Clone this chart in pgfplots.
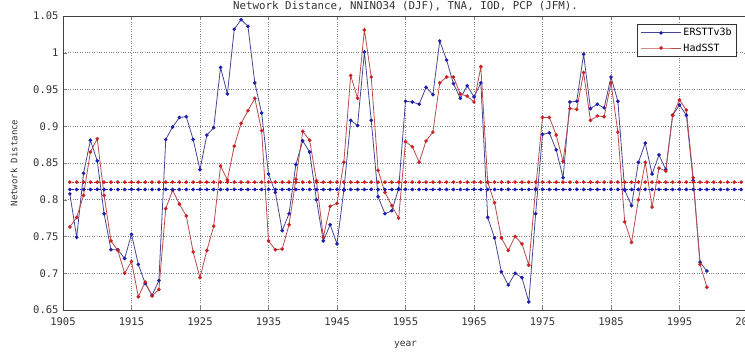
\documentclass[border=0pt]{standalone}
\usepackage{pgfplots}
\pgfplotsset{compat=1.18}
\usepackage{pgfplotstable}
\usepackage{fontspec}
\setmainfont{DejaVu Sans Mono}
\definecolor{ersst}{RGB}{30,30,175}
\definecolor{had}{RGB}{200,35,35}
\definecolor{ersstl}{RGB}{70,70,150}
\definecolor{hadl}{RGB}{185,75,75}

\pgfplotstableread{
year ersst had
1906 0.808 0.763
1907 0.749 0.776
1908 0.836 0.806
1909 0.881 0.865
1910 0.853 0.883
1911 0.781 0.806
1912 0.732 0.744
1913 0.732 0.731
1914 0.720 0.700
1915 0.753 0.716
1916 0.712 0.668
1917 0.686 0.688
1918 0.670 0.669
1919 0.690 0.678
1920 0.882 0.788
1921 0.899 0.813
1922 0.912 0.794
1923 0.913 0.778
1924 0.882 0.729
1925 0.841 0.694
1926 0.888 0.731
1927 0.898 0.764
1928 0.980 0.846
1929 0.944 0.827
1930 1.032 0.873
1931 1.045 0.904
1932 1.036 0.921
1933 0.959 0.938
1934 0.918 0.894
1935 0.835 0.744
1936 0.810 0.732
1937 0.758 0.733
1938 0.781 0.766
1939 0.848 0.828
1940 0.880 0.893
1941 0.865 0.881
1942 0.800 0.826
1943 0.744 0.749
1944 0.766 0.791
1945 0.740 0.795
1946 0.813 0.851
1947 0.908 0.969
1948 0.901 0.938
1949 1.001 1.031
1950 0.908 0.967
1951 0.804 0.840
1952 0.781 0.810
1953 0.785 0.792
1954 0.815 0.775
1955 0.934 0.879
1956 0.933 0.872
1957 0.930 0.851
1958 0.953 0.880
1959 0.943 0.892
1960 1.016 0.959
1961 0.990 0.967
1962 0.958 0.967
1963 0.938 0.944
1964 0.955 0.941
1965 0.940 0.933
1966 0.959 0.981
1967 0.776 0.824
1968 0.748 0.796
1969 0.702 0.748
1970 0.684 0.731
1971 0.700 0.750
1972 0.694 0.740
1973 0.661 0.711
1974 0.781 0.815
1975 0.889 0.912
1976 0.891 0.912
1977 0.868 0.888
1978 0.830 0.852
1979 0.933 0.924
1980 0.934 0.923
1981 0.998 0.973
1982 0.924 0.908
1983 0.930 0.914
1984 0.925 0.913
1985 0.967 0.959
1986 0.934 0.892
1987 0.813 0.770
1988 0.792 0.742
1989 0.851 0.800
1990 0.877 0.851
1991 0.835 0.790
1992 0.861 0.843
1993 0.841 0.839
1994 0.915 0.915
1995 0.929 0.936
1996 0.915 0.922
1997 0.826 0.830
1998 0.715 0.712
1999 0.703 0.681
}\datatable

\pgfplotstableread{
year e h
1906 0.814 0.824
1907 0.814 0.824
1908 0.814 0.824
1909 0.814 0.824
1910 0.814 0.824
1911 0.814 0.824
1912 0.814 0.824
1913 0.814 0.824
1914 0.814 0.824
1915 0.814 0.824
1916 0.814 0.824
1917 0.814 0.824
1918 0.814 0.824
1919 0.814 0.824
1920 0.814 0.824
1921 0.814 0.824
1922 0.814 0.824
1923 0.814 0.824
1924 0.814 0.824
1925 0.814 0.824
1926 0.814 0.824
1927 0.814 0.824
1928 0.814 0.824
1929 0.814 0.824
1930 0.814 0.824
1931 0.814 0.824
1932 0.814 0.824
1933 0.814 0.824
1934 0.814 0.824
1935 0.814 0.824
1936 0.814 0.824
1937 0.814 0.824
1938 0.814 0.824
1939 0.814 0.824
1940 0.814 0.824
1941 0.814 0.824
1942 0.814 0.824
1943 0.814 0.824
1944 0.814 0.824
1945 0.814 0.824
1946 0.814 0.824
1947 0.814 0.824
1948 0.814 0.824
1949 0.814 0.824
1950 0.814 0.824
1951 0.814 0.824
1952 0.814 0.824
1953 0.814 0.824
1954 0.814 0.824
1955 0.814 0.824
1956 0.814 0.824
1957 0.814 0.824
1958 0.814 0.824
1959 0.814 0.824
1960 0.814 0.824
1961 0.814 0.824
1962 0.814 0.824
1963 0.814 0.824
1964 0.814 0.824
1965 0.814 0.824
1966 0.814 0.824
1967 0.814 0.824
1968 0.814 0.824
1969 0.814 0.824
1970 0.814 0.824
1971 0.814 0.824
1972 0.814 0.824
1973 0.814 0.824
1974 0.814 0.824
1975 0.814 0.824
1976 0.814 0.824
1977 0.814 0.824
1978 0.814 0.824
1979 0.814 0.824
1980 0.814 0.824
1981 0.814 0.824
1982 0.814 0.824
1983 0.814 0.824
1984 0.814 0.824
1985 0.814 0.824
1986 0.814 0.824
1987 0.814 0.824
1988 0.814 0.824
1989 0.814 0.824
1990 0.814 0.824
1991 0.814 0.824
1992 0.814 0.824
1993 0.814 0.824
1994 0.814 0.824
1995 0.814 0.824
1996 0.814 0.824
1997 0.814 0.824
1998 0.814 0.824
1999 0.814 0.824
2000 0.814 0.824
2001 0.814 0.824
2002 0.814 0.824
2003 0.814 0.824
2004 0.814 0.824
}\reftable

\begin{document}
\begin{tikzpicture}
\begin{axis}[
  width=685pt, height=294pt, scale only axis,
  xmin=1905, xmax=2005, ymin=0.65, ymax=1.05,
  xtick={1905,1915,1925,1935,1945,1955,1965,1975,1985,1995,2005},
  ytick={0.65,0.7,0.75,0.8,0.85,0.9,0.95,1,1.05},
  yticklabels={0.65,0.7,0.75,0.8,0.85,0.9,0.95,1,1.05},
  /pgf/number format/assume math mode=true,
  x tick label style={/pgf/number format/1000 sep={}, yshift=-4pt},
  y tick label style={xshift=-1pt},
  tick label style={font=\fontsize{10.5}{12}\selectfont, black!80},
  tick align=inside,
  major tick length=4pt,
  grid=major,
  grid style={dotted, black!50, line width=0.6pt},
  axis line style={black!75, line width=0.7pt},
  title={Network Distance, NNINO34 (DJF), TNA, IOD, PCP (JFM).},
  title style={font=\fontsize{10.8}{12}\selectfont, black!80, at={(axis description cs:0.5,1)}, anchor=center, yshift=4pt},
  xlabel={year},
  xlabel style={font=\fontsize{9.5}{11}\selectfont, black!80, at={(axis description cs:0.5,0)}, anchor=center, yshift=-35pt},
  ylabel={Network Distance},
  every axis y label/.style={font=\fontsize{9}{11}\selectfont, black!80, at={(axis description cs:0,0.5)}, anchor=center, xshift=-49pt, rotate=90},
  legend style={at={(axis description cs:1,1)}, anchor=north east, xshift=-11pt, yshift=-8pt,
    font=\fontsize{10}{12}\selectfont, draw=black!80, line width=0.7pt, inner xsep=3pt, inner ysep=2pt,
    row sep=2pt},
  legend cell align=left,
  legend image code/.code={\draw[mark repeat=2,mark phase=2] plot coordinates {(0pt,0pt) (20pt,0pt) (40pt,0pt)};},
]
\addplot[color=ersstl, line width=0.8pt, mark=*, mark size=1.4pt, mark options={fill=ersst, draw=ersst}] table[x=year, y=ersst] {\datatable};
\addlegendentry{ERSTTv3b}
\addplot[color=hadl, line width=0.8pt, mark=*, mark size=1.4pt, mark options={fill=had, draw=had}] table[x=year, y=had] {\datatable};
\addlegendentry{HadSST}
\addplot[color=had, densely dotted, line width=0.7pt, mark=*, mark size=1.5pt, mark options={solid, fill=had, draw=had}, forget plot] table[x=year, y=h] {\reftable};
\addplot[color=ersst, densely dotted, line width=0.7pt, mark=*, mark size=1.5pt, mark options={solid, fill=ersst, draw=ersst}, forget plot] table[x=year, y=e] {\reftable};
\end{axis}
\pgfresetboundingbox
\path[use as bounding box] ([shift={(-63pt,-48pt)}]current axis.south west) rectangle ([shift={(682pt,310pt)}]current axis.south west);
\end{tikzpicture}
\end{document}
